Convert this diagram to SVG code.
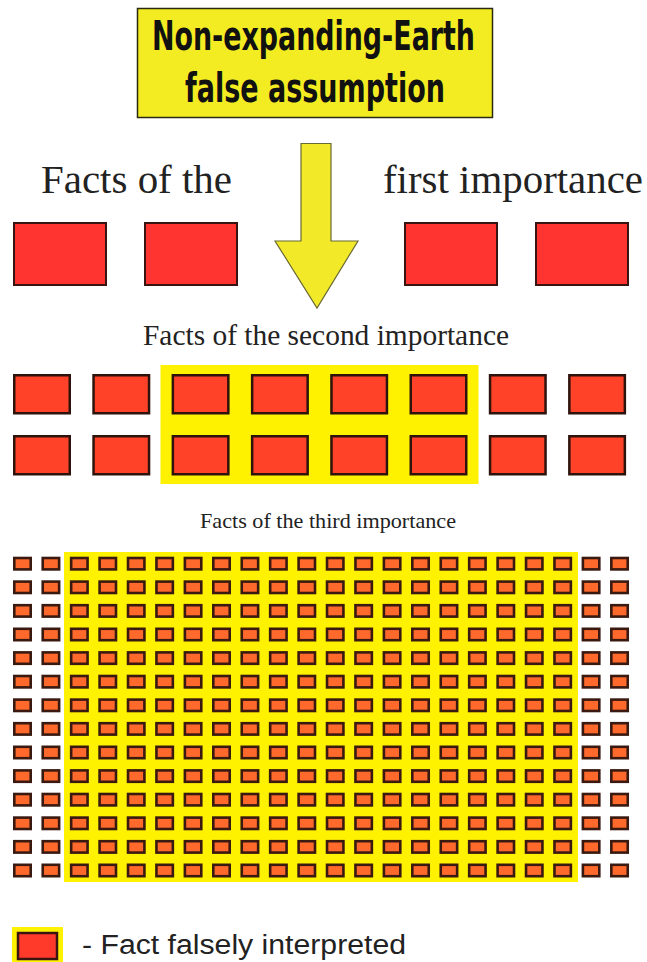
<svg xmlns="http://www.w3.org/2000/svg" xmlns:xlink="http://www.w3.org/1999/xlink" width="647" height="962" viewBox="0 0 647 962">
<style>
.title{font-family:"Liberation Sans Narrow","DejaVu Sans Condensed","Liberation Sans",sans-serif;font-weight:bold;font-size:40px;fill:#111}
.serif{font-family:"Liberation Serif","Times New Roman",serif;fill:#222}
.legend{font-family:"Liberation Sans","DejaVu Sans",sans-serif;font-size:27px;fill:#222}
.s1{fill:#FF3430;stroke:#3a1410;stroke-width:2}
.s2{fill:#FF4228;stroke:#2e120c;stroke-width:2.5}
.s3{fill:#FF6A2C;stroke:#3a1a10;stroke-width:2.6}
.yb{fill:#FFF200}
</style>
<defs>
<rect id="c" class="s3" x="1.3" y="1.3" width="16.4" height="11.4"/>
<g id="r3">
<use xlink:href="#c" x="13"/><use xlink:href="#c" x="41.43"/><use xlink:href="#c" x="69.86"/><use xlink:href="#c" x="98.29"/><use xlink:href="#c" x="126.72"/><use xlink:href="#c" x="155.15"/><use xlink:href="#c" x="183.58"/><use xlink:href="#c" x="212.01"/><use xlink:href="#c" x="240.44"/><use xlink:href="#c" x="268.87"/><use xlink:href="#c" x="297.3"/><use xlink:href="#c" x="325.73"/><use xlink:href="#c" x="354.16"/><use xlink:href="#c" x="382.59"/><use xlink:href="#c" x="411.02"/><use xlink:href="#c" x="439.45"/><use xlink:href="#c" x="467.88"/><use xlink:href="#c" x="496.31"/><use xlink:href="#c" x="524.74"/><use xlink:href="#c" x="553.17"/><use xlink:href="#c" x="581.6"/><use xlink:href="#c" x="610.03"/>
</g>
<rect id="b2" class="s2" x="1.25" y="1.25" width="55.5" height="38"/>
</defs>
<rect width="647" height="962" fill="#ffffff"/>

<g id="title">
<rect x="137.5" y="8.5" width="355" height="109" fill="#F4EC22" stroke="#2a2a10" stroke-width="1.5"/>
<text class="title" x="152" y="50" textLength="323" lengthAdjust="spacingAndGlyphs">Non-expanding-Earth</text>
<text class="title" x="185" y="102" textLength="260" lengthAdjust="spacingAndGlyphs">false assumption</text>
</g>

<g id="connectors">
<path d="M301,143.5 L331,143.5 L331,241 L358,241 L317,308 L275,241 L301,241 Z" fill="#F2EA28" stroke="#6a6a34" stroke-width="1.2"/>
</g>

<g id="level1">
<text class="serif" x="41" y="193" font-size="41" textLength="191" lengthAdjust="spacingAndGlyphs">Facts of the</text>
<text class="serif" x="383" y="193" font-size="41" textLength="260" lengthAdjust="spacingAndGlyphs">first importance</text>
<rect class="s1" x="14" y="223" width="92" height="62"/>
<rect class="s1" x="145" y="223" width="92" height="62"/>
<rect class="s1" x="405" y="223" width="92" height="62"/>
<rect class="s1" x="536" y="223" width="92" height="62"/>
</g>

<g id="level2">
<text class="serif" x="143" y="345" font-size="29" textLength="366" lengthAdjust="spacingAndGlyphs">Facts of the second importance</text>
<rect class="yb" x="160.5" y="365" width="318" height="119"/>
<use xlink:href="#b2" x="13" y="374"/><use xlink:href="#b2" x="92.3" y="374"/><use xlink:href="#b2" x="171.6" y="374"/><use xlink:href="#b2" x="250.9" y="374"/><use xlink:href="#b2" x="330.2" y="374"/><use xlink:href="#b2" x="409.5" y="374"/><use xlink:href="#b2" x="488.8" y="374"/><use xlink:href="#b2" x="568.1" y="374"/>
<use xlink:href="#b2" x="13" y="435"/><use xlink:href="#b2" x="92.3" y="435"/><use xlink:href="#b2" x="171.6" y="435"/><use xlink:href="#b2" x="250.9" y="435"/><use xlink:href="#b2" x="330.2" y="435"/><use xlink:href="#b2" x="409.5" y="435"/><use xlink:href="#b2" x="488.8" y="435"/><use xlink:href="#b2" x="568.1" y="435"/>
</g>

<g id="level3">
<text class="serif" x="200" y="528" font-size="22" textLength="256" lengthAdjust="spacingAndGlyphs">Facts of the third importance</text>
<rect class="yb" x="64" y="552" width="514" height="330"/>
<use xlink:href="#r3" y="556.7"/><use xlink:href="#r3" y="580.3"/><use xlink:href="#r3" y="603.9"/><use xlink:href="#r3" y="627.5"/><use xlink:href="#r3" y="651.1"/><use xlink:href="#r3" y="674.7"/><use xlink:href="#r3" y="698.3"/><use xlink:href="#r3" y="721.9"/><use xlink:href="#r3" y="745.5"/><use xlink:href="#r3" y="769.1"/><use xlink:href="#r3" y="792.7"/><use xlink:href="#r3" y="816.3"/><use xlink:href="#r3" y="839.9"/><use xlink:href="#r3" y="863.5"/>
</g>

<g id="legend">
<rect class="yb" x="12" y="927" width="51" height="35"/>
<rect x="18" y="933" width="39" height="26" fill="#FF3A2A" stroke="#3a1410" stroke-width="2.5"/>
<text class="legend" x="82" y="954" textLength="324" lengthAdjust="spacingAndGlyphs">- Fact falsely interpreted</text>
</g>
</svg>
